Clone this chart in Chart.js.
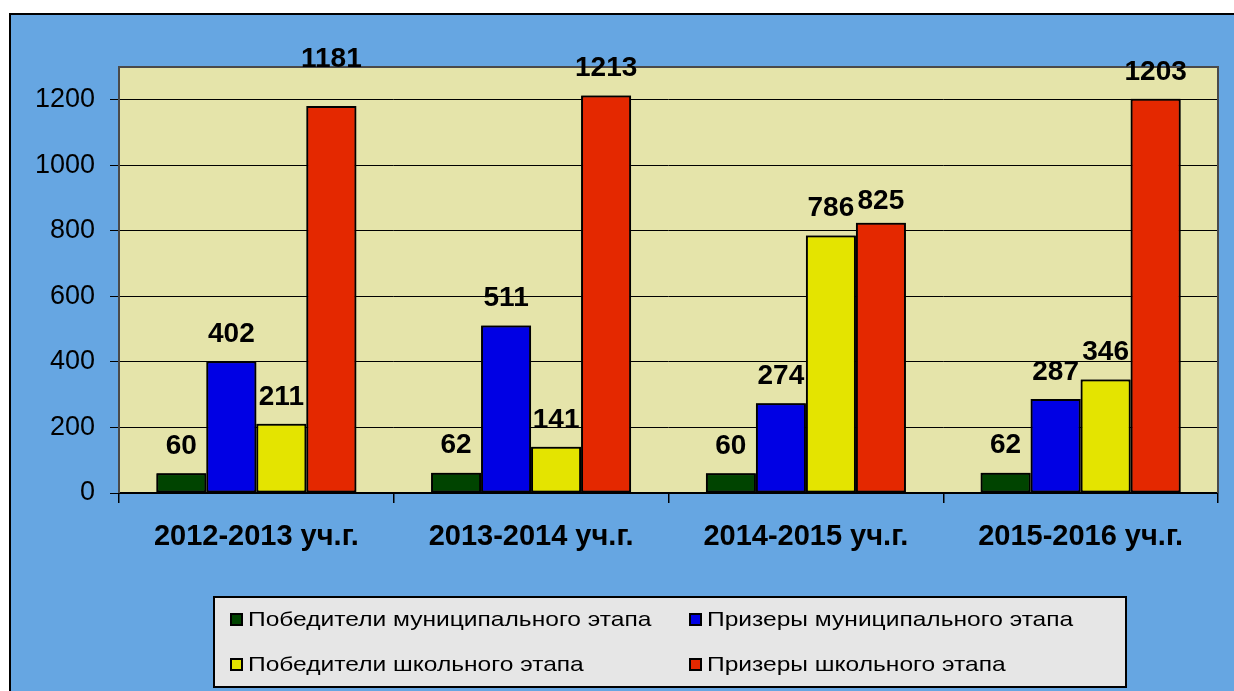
<!DOCTYPE html>
<html><head><meta charset="utf-8">
<script src="https://cdn.jsdelivr.net/npm/chart.js@4/dist/chart.umd.min.js"></script>
<style>html,body{margin:0;padding:0;background:#fff;overflow:hidden}canvas{display:block}</style>
</head><body>
<canvas id="c" width="1234" height="691"></canvas>
<script>
const categories = ['2012-2013 уч.г.', '2013-2014 уч.г.', '2014-2015 уч.г.', '2015-2016 уч.г.'];
const seriesNames = ['Победители муниципального этапа', 'Призеры муниципального этапа', 'Победители школьного этапа', 'Призеры школьного этапа'];
const winnersMunicipal = [60, 62, 60, 62];
const prizeMunicipal = [402, 511, 274, 287];
const winnersSchool = [211, 141, 786, 346];
const prizeSchool = [1181, 1213, 825, 1203];
const yTickValues = [0, 200, 400, 600, 800, 1000, 1200];

const seriesColors = ['#004400', '#0000e4', '#e4e400', '#e42800'];
const FONT = 'Arial, "Liberation Sans", sans-serif';

const backgroundPlugin = {
  id: 'bgPanel',
  beforeDraw(chart) {
    const ctx = chart.ctx, a = chart.chartArea;
    ctx.save();
    ctx.fillStyle = '#ffffff';
    ctx.fillRect(0, 0, chart.width, chart.height);
    ctx.fillStyle = '#66a6e2';
    ctx.fillRect(9, 13, chart.width - 9, chart.height - 13);
    ctx.strokeStyle = '#000';
    ctx.lineWidth = 2;
    ctx.beginPath();
    ctx.moveTo(10, chart.height); ctx.lineTo(10, 14); ctx.lineTo(chart.width, 14);
    ctx.stroke();
    ctx.fillStyle = '#e5e4aa';
    ctx.fillRect(a.left, a.top, a.right - a.left, a.bottom - a.top);
    ctx.restore();
  },
  beforeDatasetsDraw(chart) {
    const ctx = chart.ctx, a = chart.chartArea;
    ctx.save();
    ctx.strokeStyle = '#4a4a4a';
    ctx.lineWidth = 2;
    ctx.beginPath();
    ctx.moveTo(a.left, a.bottom); ctx.lineTo(a.left, a.top); ctx.lineTo(a.right, a.top); ctx.lineTo(a.right, a.bottom);
    ctx.stroke();
    ctx.restore();
  }
};

const barLabelPlugin = {
  id: 'barLabels',
  afterDatasetsDraw(chart, args, opts) {
    const ctx = chart.ctx;
    chart.data.datasets.forEach((ds, i) => {
      const meta = chart.getDatasetMeta(i);
      meta.controller.draw();
      ctx.save();
      ctx.font = 'bold 28px ' + FONT;
      ctx.fillStyle = '#000';
      ctx.textAlign = 'center';
      ctx.textBaseline = 'middle';
      meta.data.forEach((bar, j) => {
        const nudge = (opts.nudge && opts.nudge[i + '-' + j]) || 0;
        ctx.fillText(String(ds.data[j]), bar.x, bar.y - 27 + nudge);
      });
      ctx.restore();
    });
  }
};

const legendPlugin = {
  id: 'boxLegend',
  afterDraw(chart) {
    const ctx = chart.ctx;
    ctx.save();
    ctx.fillStyle = '#e6e6e6';
    ctx.fillRect(214, 597, 912, 90);
    ctx.strokeStyle = '#000';
    ctx.lineWidth = 2;
    ctx.strokeRect(214, 597, 912, 90);
    const cols = [231, 690];
    const rows = [620, 665];
    ctx.textBaseline = 'middle';
    ctx.textAlign = 'left';
    chart.data.datasets.forEach((ds, i) => {
      const x = cols[i % 2], y = rows[Math.floor(i / 2)];
      ctx.fillStyle = ds.backgroundColor;
      ctx.fillRect(x, y - 6, 11, 11);
      ctx.lineWidth = 2;
      ctx.strokeStyle = '#000';
      ctx.strokeRect(x, y - 6, 11, 11);
      ctx.fillStyle = '#000';
      ctx.save();
      ctx.font = '21px ' + FONT;
      ctx.translate(x + 17, y);
      ctx.scale(1.17, 1);
      ctx.fillText(ds.label, 0, 0);
      ctx.restore();
    });
    ctx.restore();
  }
};

const seriesData = [winnersMunicipal, prizeMunicipal, winnersSchool, prizeSchool];

new Chart(document.getElementById('c'), {
  type: 'bar',
  data: {
    labels: categories,
    datasets: seriesNames.map((name, i) => ({
      label: name,
      data: seriesData[i],
      backgroundColor: seriesColors[i],
      borderColor: '#000',
      borderWidth: 2,
      borderSkipped: false,
      categoryPercentage: 0.728,
      barPercentage: 1.0
    }))
  },
  options: {
    responsive: false,
    devicePixelRatio: 1,
    animation: false,
    layout: { padding: { top: 67, right: 16, left: 0, bottom: 0 } },
    plugins: {
      legend: { display: false },
      tooltip: { enabled: false },
      barLabels: { nudge: { '3-0': -20, '3-2': 6 } }
    },
    scales: {
      x: {
        ticks: { font: { family: FONT, size: 29, weight: 'bold' }, color: '#000', padding: 17, maxRotation: 0 },
        grid: { offset: true, drawOnChartArea: false, color: '#000', lineWidth: 1.5, tickLength: 10 },
        border: { display: true, color: '#000', width: 2 },
        afterFit: s => { s.height = 198; }
      },
      y: {
        min: 0, max: 1300,
        ticks: { stepSize: 200, font: { family: FONT, size: 27 }, color: '#000', padding: 15, callback: v => String(v) },
        afterBuildTicks: s => { s.ticks = yTickValues.map(v => ({ value: v })); },
        grid: { color: '#000', lineWidth: 1, tickLength: 9 },
        border: { display: false },
        afterFit: s => { s.width = 119; }
      }
    }
  },
  plugins: [backgroundPlugin, barLabelPlugin, legendPlugin]
});
</script>
</body></html>
